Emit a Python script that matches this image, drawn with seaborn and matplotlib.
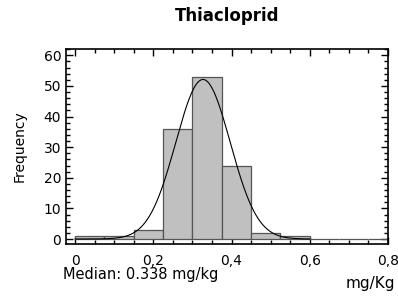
import numpy as np
import matplotlib
matplotlib.use("Agg")
import matplotlib.pyplot as plt
from matplotlib.ticker import MultipleLocator
import seaborn as sns

# binned residue data (mg/kg)
bin_edges = [0.0, 0.075, 0.15, 0.225, 0.3, 0.375, 0.45, 0.525, 0.6, 0.675, 0.75, 0.825]
counts = [1, 1, 3, 36, 53, 24, 2, 1, 0, 0, 0]
# fitted normal curve parameters
fit_mean = 0.327
fit_sd = 0.0695
median_txt = "Median: 0.338 mg/kg"
xtick_vals = [0, 0.2, 0.4, 0.6, 0.8]
xtick_labels = ["0", "0,2", "0,4", "0,6", "0,8"]
ytick_vals = [0, 10, 20, 30, 40, 50, 60]

sns.set_style("ticks")
plt.rcParams["font.family"] = ["DejaVu Sans"]
plt.rcParams["text.color"] = "black"
plt.rcParams["axes.labelcolor"] = "black"

fig = plt.figure(figsize=(3.98, 2.96), dpi=100)
ax = fig.add_axes([0.166, 0.176, 0.809, 0.658])

centers = [(bin_edges[i] + bin_edges[i + 1]) / 2 for i in range(len(counts))]
sns.histplot(x=centers, weights=counts, bins=bin_edges, ax=ax,
             color="#c0c0c0", edgecolor="#555555", linewidth=0.9, alpha=1)

# normal fit scaled to counts
n = sum(counts)
w = bin_edges[1] - bin_edges[0]
xs = np.linspace(0, 0.6, 300)
ys = n * w / (fit_sd * np.sqrt(2 * np.pi)) * np.exp(-0.5 * ((xs - fit_mean) / fit_sd) ** 2)
sns.lineplot(x=xs, y=ys, ax=ax, color="black", linewidth=0.8)

ax.set_xlim(-0.023, 0.8)
ax.set_ylim(-1.6, 62)
ax.set_xticks(xtick_vals)
ax.set_xticklabels(xtick_labels)
ax.set_yticks(ytick_vals)
ax.xaxis.set_minor_locator(MultipleLocator(0.05))
ax.yaxis.set_minor_locator(MultipleLocator(2))
ax.tick_params(axis="both", which="both", direction="in", top=True, right=True,
               labelsize=10, colors="black")
ax.tick_params(which="major", length=5, width=1)
ax.tick_params(which="minor", length=3, width=1)
ax.tick_params(axis="x", pad=7)
for side in ["top", "bottom", "left", "right"]:
    ax.spines[side].set_linewidth(1.2)
    ax.spines[side].set_color("black")

ax.set_xlabel("")
ax.set_ylabel("Frequency", fontsize=10, labelpad=12)
ax.set_title("Thiacloprid", fontsize=12, fontweight="bold", pad=20, color="black")

fig.text(0.158, 0.074, median_txt, fontsize=10.5, va="center", ha="left")
fig.text(0.993, 0.041, "mg/Kg", fontsize=11, va="center", ha="right")

fig.savefig("out.png", dpi=100)
